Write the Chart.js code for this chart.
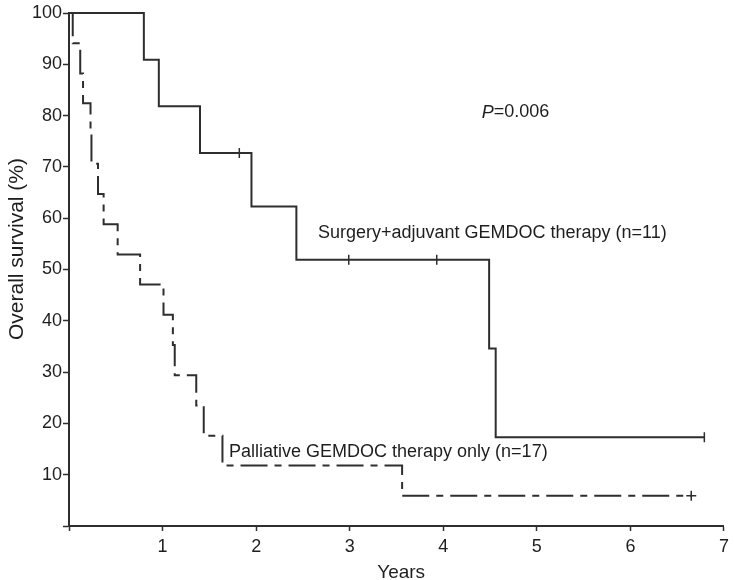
<!DOCTYPE html>
<html>
<head>
<meta charset="utf-8">
<script src="https://cdn.jsdelivr.net/npm/chart.js@4"></script>
<style>
  html, body { margin: 0; background: #fff; }
  #wrap { width: 734px; height: 580px; }
</style>
</head>
<body>
<div id="wrap"><canvas id="km"></canvas></div>
<script>
// Kaplan-Meier steps (years, % surviving)
const surgeryTimes = [0, 0.80, 0.96, 1.40, 1.95, 2.43, 4.49, 4.56, 6.79];
const surgerySurv  = [100, 90.9, 81.8, 72.7, 62.3, 51.9, 34.6, 17.3, 17.3];
const surgeryCensorTimes = [1.82, 2.99, 3.93, 6.79];
const surgeryCensorSurv  = [72.7, 51.9, 51.9, 17.3];

const palliativeTimes = [0, 0.04, 0.12, 0.15, 0.23, 0.24, 0.31, 0.37, 0.52, 0.76, 1.01, 1.11, 1.13, 1.36, 1.44, 1.64, 3.56, 6.65];
const palliativeSurv  = [100, 94.1, 88.2, 82.4, 76.5, 70.6, 64.7, 58.8, 52.9, 47.1, 41.2, 35.3, 29.4, 23.5, 17.6, 11.8, 5.9, 5.9];
const palliativeCensorTimes = [6.65];
const palliativeCensorSurv  = [5.9];

const xTicks = [0, 1, 2, 3, 4, 5, 6, 7];
const yTicks = [0, 10, 20, 30, 40, 50, 60, 70, 80, 90, 100];

const INK = '#2e2e2e';
const TEXT = '#1e1e1e';
const FONT = "'Liberation Sans', Arial, Helvetica, sans-serif";

function pts(xs, ys) {
  return xs.map((x, i) => ({ x: x, y: ys[i] }));
}

// text notes placed in data units
const notes = [
  { text: 'Surgery+adjuvant GEMDOC therapy (n=11)', x: 2.66, y: 57.2 },
  { text: 'Palliative GEMDOC therapy only (n=17)', x: 1.71, y: 14.4 }
];
const pNote = { x: 4.41, y: 80.6, label: 'P', value: '=0.006' };

const notesPlugin = {
  id: 'notes',
  afterDatasetsDraw(chart) {
    const ctx = chart.ctx;
    const xs = chart.scales.x, ys = chart.scales.y;
    ctx.save();
    ctx.fillStyle = TEXT;
    ctx.textBaseline = 'middle';
    ctx.textAlign = 'left';
    ctx.font = '18px ' + FONT;
    notes.forEach(n => {
      ctx.fillText(n.text, xs.getPixelForValue(n.x), ys.getPixelForValue(n.y));
    });
    let px = xs.getPixelForValue(pNote.x);
    const py = ys.getPixelForValue(pNote.y);
    ctx.font = 'italic 18px ' + FONT;
    ctx.fillText(pNote.label, px, py);
    px += ctx.measureText(pNote.label).width;
    ctx.font = '18px ' + FONT;
    ctx.fillText(pNote.value, px, py);

    // axis titles
    ctx.textAlign = 'center';
    ctx.font = '19px ' + FONT;
    ctx.fillText('Years', xs.getPixelForValue(3.55), 573);
    ctx.translate(17, ys.getPixelForValue(54));
    ctx.rotate(-Math.PI / 2);
    ctx.font = '21px ' + FONT;
    ctx.fillText('Overall survival (%)', 0, 0);
    ctx.restore();
  }
};

new Chart(document.getElementById('km'), {
  type: 'line',
  data: {
    datasets: [
      {
        label: 'Surgery+adjuvant GEMDOC therapy (n=11)',
        data: pts(surgeryTimes, surgerySurv),
        stepped: 'before',
        borderColor: INK,
        borderWidth: 2,
        pointRadius: 0,
        fill: false,
        clip: false
      },
      {
        label: 'Palliative GEMDOC therapy only (n=17)',
        data: pts(palliativeTimes, palliativeSurv),
        stepped: 'before',
        borderColor: INK,
        borderWidth: 2,
        borderDash: [27, 7, 7, 7],
        pointRadius: 0,
        fill: false,
        clip: false
      },
      {
        label: 'censored surgery',
        type: 'scatter',
        data: pts(surgeryCensorTimes, surgeryCensorSurv),
        pointStyle: 'line',
        rotation: 90,
        radius: 5,
        borderColor: INK,
        borderWidth: 1.5,
        clip: false
      },
      {
        label: 'censored palliative',
        type: 'scatter',
        data: pts(palliativeCensorTimes, palliativeCensorSurv),
        pointStyle: 'cross',
        radius: 5,
        borderColor: INK,
        borderWidth: 1.5,
        clip: false
      }
    ]
  },
  options: {
    responsive: true,
    maintainAspectRatio: false,
    animation: false,
    layout: { padding: { top: 13, right: 8, left: 0, bottom: 0 } },
    plugins: {
      legend: { display: false },
      tooltip: { enabled: false }
    },
    scales: {
      x: {
        type: 'linear',
        min: 0,
        max: 7,
        afterBuildTicks: s => { s.ticks = xTicks.map(v => ({ value: v })); },
        afterFit: s => { s.height = 54; },
        ticks: {
          callback: v => (v === 0 ? '' : v),
          color: TEXT,
          font: { size: 18, family: FONT },
          padding: 5,
          maxRotation: 0
        },
        grid: { drawOnChartArea: false, drawTicks: true, tickLength: 5, color: INK, tickWidth: 1.5 },
        border: { color: INK, width: 2 }
      },
      y: {
        type: 'linear',
        min: 0,
        max: 100,
        afterBuildTicks: s => { s.ticks = yTicks.map(v => ({ value: v })); },
        afterFit: s => { s.width = 69; },
        ticks: {
          callback: v => (v === 0 ? '' : v),
          color: TEXT,
          font: { size: 18, family: FONT },
          padding: 1
        },
        grid: { drawOnChartArea: false, drawTicks: true, tickLength: 6, color: INK, tickWidth: 1.5 },
        border: { color: INK, width: 2 }
      }
    }
  },
  plugins: [notesPlugin]
});
</script>
</body>
</html>
